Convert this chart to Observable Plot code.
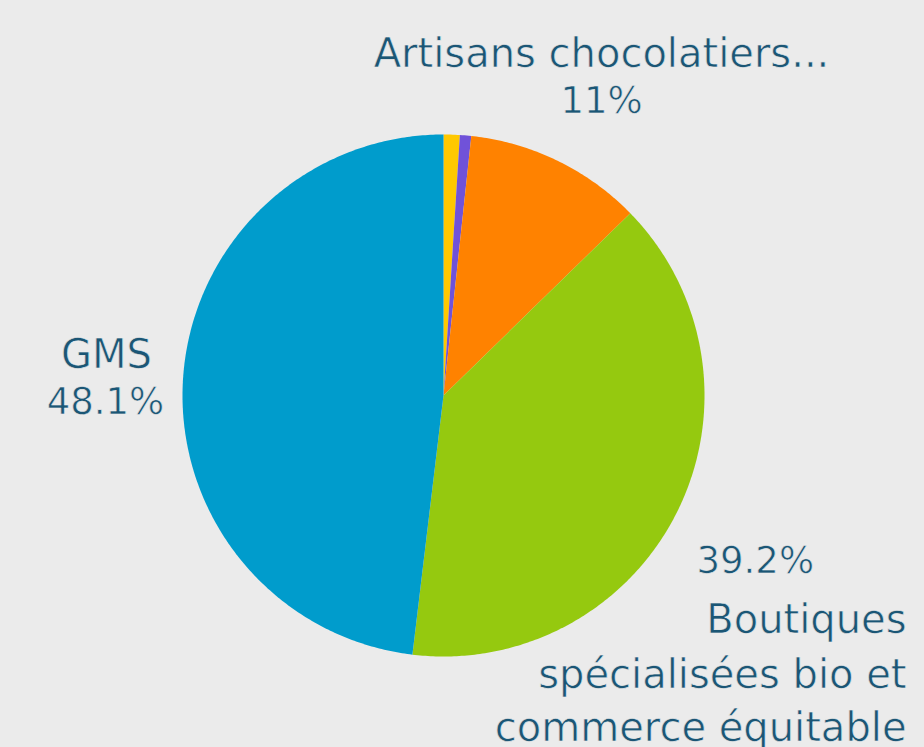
<!DOCTYPE html>
<html>
<head>
<meta charset="utf-8">
<script src="https://cdn.jsdelivr.net/npm/d3@7"></script>
<script src="https://cdn.jsdelivr.net/npm/@observablehq/plot@0.6"></script>
<style>
  html, body { margin: 0; padding: 0; background: #ebebeb; }
  #chart svg { display: block; }
</style>
</head>
<body>
<div id="chart"></div>
<script>
// Data (clockwise from 12 o'clock)
const categories = ["Autre 1", "Autre 2", "Artisans chocolatiers...", "Boutiques spécialisées bio et commerce équitable", "GMS"];
const values = [1.0, 0.7, 11, 39.2, 48.1];
const colors = ["#ffc800", "#7052d9", "#ff8200", "#95c90f", "#009ccc"];

// Label lines (kind: "name" or "pct")
const labelLines = [
  {text: "Artisans chocolatiers...", kind: "name", px: 601, py: 66, anchor: "middle"},
  {text: "11%", kind: "pct", px: 601, py: 112, anchor: "middle"},
  {text: "GMS", kind: "name", px: 106, py: 367, anchor: "middle"},
  {text: "48.1%", kind: "pct", px: 105, py: 413, anchor: "middle"},
  {text: "39.2%", kind: "pct", px: 696, py: 572, anchor: "start"},
  {text: "Boutiques", kind: "name", px: 906, py: 632, anchor: "end"},
  {text: "spécialisées bio et", kind: "name", px: 906, py: 687, anchor: "end"},
  {text: "commerce équitable", kind: "name", px: 906, py: 740, anchor: "end"}
];

const W = 924, H = 747, cx = 443, cy = 395, R = 261;
const textColor = "#1b5675";
const bg = "#ebebeb";

const pie = d3.pie().sort(null).value(d => d)(values);
const pts = [];
pie.forEach((a, i) => {
  const n = Math.max(4, Math.ceil((a.endAngle - a.startAngle) / 0.01));
  pts.push({slice: i, x: 0, y: 0});
  for (let k = 0; k <= n; k++) {
    const t = a.startAngle + (a.endAngle - a.startAngle) * k / n;
    pts.push({slice: i, x: Math.sin(t), y: Math.cos(t)});
  }
  pts.push({slice: i, x: 0, y: 0});
});

const toX = px => (px - cx) / R;
const toY = py => (cy - py) / R;

const textMarks = [];
for (const anchor of ["middle", "start", "end"]) {
  for (const kind of ["name", "pct"]) {
    const rows = labelLines.filter(d => d.anchor === anchor && d.kind === kind);
    if (!rows.length) continue;
    textMarks.push(Plot.text(rows, {
      x: d => toX(d.px), y: d => toY(d.py), text: "text",
      textAnchor: anchor, lineAnchor: "bottom",
      fontSize: kind === "name" ? 40 : 37, fontWeight: 400, fill: textColor,
      stroke: bg, strokeWidth: 0.6, paintOrder: "normal"
    }));
  }
}

const plot = Plot.plot({
  width: W,
  height: H,
  margin: 0,
  style: {background: bg, fontFamily: "DejaVu Sans"},
  x: {domain: [-1, 1], range: [cx - R, cx + R], axis: null},
  y: {domain: [-1, 1], range: [cy + R, cy - R], axis: null},
  marks: [
    Plot.line(pts, {x: "x", y: "y", z: "slice", fill: d => colors[d.slice], stroke: null, curve: "linear"}),
    ...textMarks
  ]
});
document.getElementById("chart").appendChild(plot);
</script>
</body>
</html>
